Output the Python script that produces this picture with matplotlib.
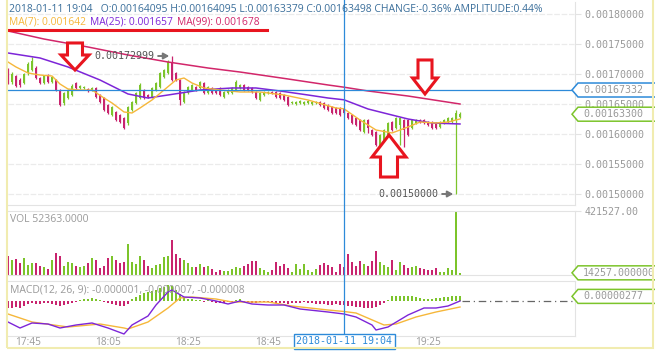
import numpy as np
import matplotlib
matplotlib.use("Agg")
import matplotlib.pyplot as plt
import matplotlib.transforms as mtransforms
from matplotlib.patches import Polygon, Rectangle
from matplotlib.lines import Line2D

# Figure size in pixels (dpi 100)
W, H = 655, 356
P = 1e-5   # price lists below are in units of 1e-5
M = 1e-6   # MACD lists below are in units of 1e-6

# 1-minute candles 17:40 .. 19:33
OPEN = [170.67, 168.67, 169.67, 169.00, 168.50, 170.17, 170.67, 171.00, 169.33, 168.50,
        169.83, 168.67, 169.00, 167.33, 165.17, 166.00, 166.50, 168.50, 167.67, 167.67,
        167.50, 167.33, 167.67, 166.50, 166.00, 164.83, 163.17, 163.67, 163.17, 162.67,
        161.83, 164.00, 165.17, 166.00, 167.33, 166.50, 166.17, 167.33, 167.83, 169.50,
        170.17, 172.00, 170.17, 169.00, 165.33, 166.83, 167.33, 167.83, 167.67, 168.50,
        166.83, 167.67, 167.33, 167.67, 166.17, 166.83, 166.83, 167.33, 167.67, 168.17,
        167.83, 167.67, 167.00, 165.67, 166.50, 166.83, 167.00, 167.00, 166.83, 166.50,
        166.17, 165.17, 165.00, 165.17, 165.00, 165.17, 165.00, 165.17, 165.33, 165.17,
        164.83, 164.50, 164.33, 164.33, 164.095, 163.50, 163.17, 162.67, 162.33, 160.33,
        162.33, 160.67, 160.33, 157.83, 158.67, 159.83, 162.00, 161.00, 161.50, 162.33,
        162.33, 161.00, 161.83, 162.33, 162.33, 162.00, 162.00, 161.83, 161.17, 161.83,
        162.00, 162.00, 162.33, 162.83]
HIGH = [171.00, 170.33, 169.83, 169.33, 170.17, 172.00, 172.83, 171.33, 169.50, 169.83,
        170.00, 169.67, 169.17, 167.50, 167.00, 167.50, 168.33, 168.67, 168.17, 168.00,
        167.67, 167.83, 167.83, 166.67, 166.17, 165.00, 164.67, 163.83, 163.33, 162.83,
        164.67, 165.50, 167.00, 168.50, 167.50, 166.67, 167.83, 168.67, 170.33, 170.83,
        172.33, 172.999, 170.33, 169.17, 167.17, 168.00, 168.33, 168.00, 168.83, 168.67,
        168.00, 167.83, 167.50, 167.83, 167.17, 167.50, 167.83, 169.00, 168.33, 168.33,
        168.00, 167.83, 167.17, 167.00, 167.17, 167.17, 167.17, 167.17, 167.00, 166.67,
        166.33, 165.50, 165.50, 165.67, 165.50, 165.67, 165.50, 165.50, 165.50, 165.33,
        165.00, 164.67, 164.50, 164.50, 164.095, 163.67, 163.33, 162.83, 162.50, 162.50,
        162.50, 160.83, 160.50, 160.00, 160.83, 162.00, 162.17, 162.83, 162.83, 162.50,
        162.50, 162.50, 162.50, 162.50, 162.50, 162.17, 162.17, 162.00, 162.17, 162.50,
        162.83, 162.83, 164.00, 163.67]
LOW = [168.33, 168.33, 167.83, 167.83, 168.33, 169.83, 170.50, 169.17, 168.33, 168.33,
       168.50, 168.50, 167.17, 164.67, 164.83, 165.83, 166.33, 167.50, 167.50, 167.50,
       167.00, 167.17, 166.00, 165.17, 163.83, 163.33, 163.00, 162.17, 161.83, 160.83,
       161.50, 163.83, 165.00, 165.83, 165.83, 166.00, 166.00, 167.17, 167.67, 169.33,
       170.00, 168.83, 168.83, 164.83, 165.17, 166.67, 167.17, 167.17, 167.50, 166.67,
       166.67, 166.67, 166.67, 166.33, 166.00, 166.67, 166.67, 167.17, 167.50, 167.17,
       167.17, 166.83, 165.83, 165.50, 166.33, 166.67, 166.67, 166.00, 165.83, 165.50,
       164.67, 165.00, 164.83, 165.00, 164.83, 165.00, 164.83, 165.00, 164.67, 164.17,
       163.83, 163.33, 163.33, 163.00, 163.379, 162.50, 161.67, 161.33, 160.50, 160.17,
       160.17, 159.67, 158.00, 157.67, 158.50, 159.67, 160.50, 160.83, 158.17, 157.83,
       159.67, 160.83, 161.67, 161.83, 161.67, 161.33, 160.83, 160.83, 161.00, 161.67,
       161.83, 161.83, 150.00, 162.67]
CLOSE = [168.67, 170.00, 168.00, 168.17, 170.00, 171.67, 172.17, 169.33, 168.50, 169.67,
         168.67, 169.50, 167.33, 164.83, 166.83, 167.33, 168.00, 167.67, 168.00, 167.83,
         167.17, 167.67, 166.17, 165.33, 164.00, 163.50, 164.50, 162.33, 162.00, 161.00,
         164.50, 165.33, 166.83, 168.17, 166.00, 166.17, 167.67, 168.50, 170.17, 170.67,
         172.00, 169.00, 169.00, 165.67, 167.00, 167.83, 168.17, 167.33, 168.67, 166.83,
         167.83, 166.83, 166.83, 166.50, 167.00, 167.33, 167.67, 168.67, 168.17, 167.33,
         167.33, 167.00, 166.00, 166.83, 167.00, 167.00, 166.83, 166.17, 166.00, 165.67,
         164.83, 165.33, 165.33, 165.50, 165.33, 165.50, 165.33, 165.33, 164.83, 164.33,
         164.00, 163.50, 163.50, 163.17, 163.498, 162.67, 161.83, 161.50, 160.67, 162.33,
         161.00, 159.83, 158.17, 159.83, 160.67, 161.83, 160.67, 162.67, 162.67, 160.67,
         159.83, 162.33, 162.33, 162.00, 161.83, 161.50, 161.00, 161.00, 162.00, 162.33,
         162.67, 162.67, 163.50, 163.30]
VOLUME = [125000, 99000, 103000, 81000, 112000, 66000, 77000, 81000, 59000, 55000,
          40000, 99000, 147000, 125000, 59000, 86000, 81000, 59000, 55000, 59000,
          81000, 114000, 99000, 46000, 59000, 112000, 125000, 99000, 81000, 88000,
          204000, 88000, 72000, 125000, 99000, 59000, 44000, 64000, 72000, 121000,
          125000, 230000, 138000, 110000, 99000, 77000, 55000, 55000, 72000, 51000,
          59000, 37000, 22000, 33000, 26000, 26000, 37000, 51000, 44000, 59000,
          72000, 94000, 94000, 44000, 33000, 22000, 33000, 86000, 59000, 72000,
          46000, 20000, 72000, 37000, 72000, 33000, 20000, 37000, 64000, 81000,
          64000, 55000, 22000, 72000, 52363, 138000, 86000, 59000, 92000, 72000,
          59000, 92000, 158000, 86000, 64000, 53000, 99000, 33000, 86000, 66000,
          46000, 51000, 59000, 46000, 40000, 33000, 33000, 46000, 20000, 20000,
          46000, 33000, 421527, 14257]
HIST = [-4.2, -4.2, -3.6, -4.2, -3.0, -1.8, -1.2, -1.8, -1.8, -1.2,
        -1.2, -1.8, -2.4, -3.0, -2.4, -1.8, -1.2, -0.6, 0.6, 1.2,
        1.2, 1.8, 1.2, 0.6, -0.6, -1.2, -1.8, -2.4, -3.0, -3.0,
        -1.8, 1.2, 2.4, 3.6, 4.8, 5.4, 6.0, 6.6, 7.8, 8.4,
        9.6, 9.0, 6.6, 4.2, 2.4, 1.2, 1.2, 0.6, 0.6, -0.6,
        0.6, -0.6, -1.2, -1.2, -1.2, -0.6, -0.6, 0.6, 1.2, -0.6,
        -0.6, -1.2, -1.2, -0.6, -0.6, -0.6, -0.6, -1.2, -1.2, -1.2,
        -1.8, -1.2, -1.2, -1.2, -0.6, -1.2, -1.2, -1.8, -1.8, -1.8,
        -2.4, -2.4, -1.8, -2.4, -2.4, -3.0, -3.0, -3.6, -3.6, -4.2,
        -4.2, -4.2, -3.6, -2.4, -1.2, 0.6, 3.0, 3.0, 3.0, 3.0,
        3.0, 3.0, 2.4, 1.8, 1.2, 1.2, 1.2, 1.8, 1.8, 2.4,
        2.4, 3.0, 3.0, 2.77]

# moving averages, read at selected candles
MA7_IDX = [0, 2, 5, 8, 11, 13, 15, 18, 21, 24, 26, 29, 31, 33, 36, 39, 42, 44, 46, 49,
           53, 58, 63, 69, 75, 82, 84, 88, 92, 96, 100, 103, 107, 110, 113]
MA7 = [172.00, 171.17, 170.17, 169.83, 169.67, 168.33, 167.50, 167.33, 167.33, 166.00,
       165.17, 163.67, 163.50, 164.33, 165.67, 167.33, 169.00, 169.33, 168.50, 167.67,
       167.33, 167.00, 167.00, 166.50, 165.67, 164.33, 164.20, 162.33, 160.67, 160.17,
       161.17, 162.00, 161.83, 162.00, 162.50]
MA25_IDX = [0, 8, 15, 23, 30, 35, 40, 48, 56, 62, 68, 75, 80, 84, 90, 95, 100, 106, 113]
MA25 = [173.50, 172.67, 171.17, 169.00, 166.67, 166.00, 166.50, 167.33, 167.67, 167.67,
        167.17, 166.50, 166.00, 165.70, 164.17, 163.33, 162.50, 161.83, 161.67]
MA99_IDX = [0, 9, 20, 30, 40, 50, 58, 70, 80, 84, 90, 100, 113]
MA99 = [177.17, 175.83, 174.50, 173.17, 172.00, 171.00, 170.33, 169.17, 168.17, 167.80,
        167.17, 166.33, 165.00]

# MACD lines, read at selected candles
DIF_IDX = [0, 3, 6, 10, 13, 17, 21, 25, 29, 31, 35, 37, 40, 41, 44, 48, 52, 55, 58, 61,
           65, 69, 73, 80, 84, 87, 91, 92, 95, 100, 104, 107, 110, 113]
DIF = [-12.6, -16.2, -13.2, -13.8, -16.2, -14.4, -13.2, -16.2, -19.8, -14.4,
       -9.0, -2.4, 5.4, 6.6, 2.4, 1.8, 0.0, -1.8, 0.0, -1.8,
       -2.4, -2.4, -4.8, -6.6, -7.8, -9.6, -14.4, -17.4, -15.6, -8.4,
       -4.2, -4.2, -3.0, 0.0]
DEA_IDX = [0, 6, 15, 23, 29, 30, 35, 40, 43, 46, 52, 56, 65, 71, 80, 84, 87, 94, 97, 102,
           107, 113]
DEA = [-7.8, -12.6, -15.6, -13.8, -16.2, -16.8, -12.6, -4.2, 1.8, 2.4, 1.2, -0.6, -0.6,
       -3.0, -5.4, -6.3, -7.2, -14.4, -13.8, -9.6, -6.6, -3.6]

PRICE_TICKS = [0.0015, 0.00155, 0.0016, 0.00165, 0.0017, 0.00175, 0.0018]
TIME_TICK_IDX = [5, 25, 45, 65, 105]
TIME_LABELS = ["17:45", "18:05", "18:25", "18:45", "19:25"]

CROSS_IDX = 84
CROSS_LABEL = "2018-01-11 19:04"
CROSS_PRICE = 0.00167332
LAST_PRICE = 0.001633
MAX_VOL = 421527
HEADER = ("2018-01-11 19:04   O:0.00164095 H:0.00164095 L:0.00163379 C:0.00163498 "
          "CHANGE:-0.36% AMPLITUDE:0.44%")
MA_LABELS = ["MA(7): 0.001642", "MA(25): 0.001657", "MA(99): 0.001678"]
VOL_LABEL = "VOL 52363.0000"
MACD_LABEL = "MACD(12, 26, 9): -0.000001, -0.000007, -0.000008"

# Styles
UP, DOWN = "#7cc42b", "#c8246e"
MA_COLORS = ["#f6b73a", "#7d25d8", "#d2266a"]
BLUE = "#2d8ad9"
RED = "#e8151f"
GRID = "#ebebeb"
BORDER = "#e3e3e3"
AXTXT = "#9a9a9a"
MONO = "DejaVu Sans Mono"
SANS = "Open Sans"


def fx(px):
    return px / W


def fy(py):
    return 1 - py / H


def price_tag(fig, ax, value, text, edge, size=7.2):
    # tag box with a notch pointing left, anchored at x=572px
    base = mtransforms.blended_transform_factory(fig.transFigure, ax.transData)
    trans = fig.dpi_scale_trans + mtransforms.ScaledTranslation(fx(572), value, base)
    pts = [(0, 0), (0.06, 0.07), (0.85, 0.07), (0.85, -0.07), (0.06, -0.07)]
    fig.add_artist(Polygon(pts, closed=True, transform=trans, fc="white", ec=edge,
                           lw=1.1, zorder=5))
    fig.text(0.11, 0.0, text, transform=trans, ha="left", va="center",
             color=AXTXT, family=MONO, fontsize=size, zorder=6)


def hollow_arrow(fig, ax, x, y, down, head_w, head_l, shaft_w, length):
    s = 1 if down else -1
    pts = [(0, 0), (-head_w, s * head_l), (-shaft_w, s * head_l), (-shaft_w, s * length),
           (shaft_w, s * length), (shaft_w, s * head_l), (head_w, s * head_l)]
    pts = [(a / 100, b / 100) for a, b in pts]
    trans = fig.dpi_scale_trans + mtransforms.ScaledTranslation(x, y, ax.transData)
    ax.add_patch(Polygon(pts, closed=True, transform=trans, fc="white", ec=RED,
                         lw=2.2, zorder=8, clip_on=False, joinstyle="miter"))


def main():
    fig = plt.figure(figsize=(W / 100, H / 100), dpi=100)
    fig.patch.set_facecolor("white")

    left, width = fx(8), fx(575) - fx(8)
    ax = fig.add_axes([left, fy(205), width, (205 - 2) / H])
    axv = fig.add_axes([left, fy(275), width, (275 - 211) / H])
    axm = fig.add_axes([left, fy(336), width, (336 - 281) / H])

    n = len(OPEN)
    idx = np.arange(n)
    o, h, l, c = (np.array(v) * P for v in (OPEN, HIGH, LOW, CLOSE))
    colors = np.where(c >= o, UP, DOWN)
    px_price = 0.00005 / 30  # one pixel in price

    # Candles
    ax.vlines(idx, l, h, colors=colors, lw=0.9, zorder=3)
    body = np.maximum(np.abs(c - o), 1.2 * px_price)
    ax.bar(idx, body, bottom=np.minimum(o, c), width=0.72, color=colors, lw=0, zorder=3)

    # Moving averages
    for xs, vals, col, lw in [(MA99_IDX, MA99, MA_COLORS[2], 1.1),
                              (MA25_IDX, MA25, MA_COLORS[1], 1.1),
                              (MA7_IDX, MA7, MA_COLORS[0], 1.0)]:
        ax.plot(xs, np.array(vals) * P, color=col, lw=lw, zorder=4)

    xmax = (575 - 8) / 4
    for a in (ax, axv, axm):
        a.set_xlim(0, xmax)
        a.set_facecolor("none")
        for sp in a.spines.values():
            sp.set_color(BORDER)
            sp.set_linewidth(0.8)
        a.spines["left"].set_visible(False)

    ax.set_ylim(0.0018 - 191 * px_price, 0.0018 + 12 * px_price)
    ax.spines["top"].set_visible(False)
    ax.yaxis.tick_right()
    ax.set_yticks(PRICE_TICKS)
    ax.set_yticklabels([f"{v:.8f}" for v in PRICE_TICKS])
    ax.tick_params(axis="y", length=4, color=BORDER, pad=3, labelsize=7.2,
                   labelcolor=AXTXT)
    for t in ax.get_yticklabels():
        t.set_family(MONO)
    ax.tick_params(axis="x", bottom=False, labelbottom=False)
    ax.grid(axis="y", color=GRID, lw=0.9, ls=(0, (4.5, 1.4)), zorder=0)

    # Crosshair price line
    ax.axhline(CROSS_PRICE, color=BLUE, lw=0.9, zorder=5)

    # High / low annotations
    hi_i = int(np.argmax(h))
    lo_i = int(np.argmin(l))
    for i, val in [(hi_i, h[hi_i]), (lo_i, l[lo_i])]:
        ax.annotate(f"{val:.8f}", xy=(i, val), xytext=(-13, 0), textcoords="offset points",
                    ha="right", va="center", color="#555555", family=MONO, fontsize=7.2,
                    zorder=7,
                    arrowprops=dict(arrowstyle="-|>,head_length=0.45,head_width=0.25",
                                    color="#777777", lw=1.4, shrinkA=1, shrinkB=2))

    # Red hollow arrows
    hollow_arrow(fig, ax, 16.75, 0.0017067, True, 14, 15, 7.5, 27)
    hollow_arrow(fig, ax, 104.25, 0.0016667, True, 12.5, 16, 7, 34)
    hollow_arrow(fig, ax, 95.25, 0.0015983, False, 17, 22, 8.5, 42)

    # Volume
    axv.bar(idx, VOLUME, width=0.68, color=colors, lw=0)
    axv.set_ylim(0, MAX_VOL)
    axv.yaxis.tick_right()
    axv.set_yticks([MAX_VOL])
    axv.set_yticklabels([f"{MAX_VOL:.2f}"])
    axv.tick_params(axis="y", length=4, color=BORDER, pad=3, labelsize=7.2, labelcolor=AXTXT)
    for t in axv.get_yticklabels():
        t.set_family(MONO)
    axv.tick_params(axis="x", bottom=False, labelbottom=False)

    # MACD
    hist = np.array(HIST) * M
    axm.bar(idx, hist, width=0.55, color=np.where(hist >= 0, UP, DOWN), lw=0)
    axm.plot(DEA_IDX, np.array(DEA) * M, color=MA_COLORS[0], lw=1.0)
    axm.plot(DIF_IDX, np.array(DIF) * M, color=MA_COLORS[1], lw=1.0)
    axm.plot([n - 0.5, xmax], [0, 0], color="#666666", lw=0.9, ls=(0, (6, 3, 1, 3)))
    axm.set_ylim(-21 * M, 12 * M)
    axm.set_yticks([])
    axm.set_xticks(TIME_TICK_IDX)
    axm.set_xticklabels(TIME_LABELS)
    axm.tick_params(axis="x", length=0, pad=1, labelsize=7.3, labelcolor=AXTXT)
    for t in axm.get_xticklabels():
        t.set_family(SANS)

    # Vertical crosshair through all panels
    vtrans = mtransforms.blended_transform_factory(ax.transData, fig.transFigure)
    fig.add_artist(Line2D([CROSS_IDX, CROSS_IDX], [1, fy(335)], transform=vtrans,
                          color=BLUE, lw=0.9, zorder=4))
    fig.text(CROSS_IDX, fy(341.5), CROSS_LABEL, transform=vtrans, ha="center",
             va="center", color=BLUE, family=MONO, fontsize=7.2, zorder=6,
             bbox=dict(boxstyle="square,pad=0.25", fc="white", ec=BLUE, lw=1.0))

    # Right-hand tags
    price_tag(fig, ax, CROSS_PRICE, f"{CROSS_PRICE:.8f}", BLUE)
    price_tag(fig, ax, LAST_PRICE, f"{LAST_PRICE:.8f}", UP)
    price_tag(fig, axv, VOLUME[-1], f"{VOLUME[-1]:.6f}", UP)
    price_tag(fig, axm, HIST[-1] * M, f"{HIST[-1] * M:.8f}", UP)

    # Header texts
    fig.text(fx(9), fy(10), HEADER, color="#3a6e9a", family=SANS, fontsize=7.45,
             va="center", ha="left", zorder=6)
    fig.canvas.draw()
    r = fig.canvas.get_renderer()
    x = 9
    for txt, col in zip(MA_LABELS, MA_COLORS):
        t = fig.text(fx(x), fy(22), txt, color=col, family=SANS, fontsize=7.4,
                     va="center", ha="left", zorder=6)
        x = t.get_window_extent(r).x1 + 4
    fig.add_artist(Line2D([fx(8), fx(x + 3)], [fy(30), fy(30)], color=RED, lw=2.2,
                          zorder=6))
    fig.text(fx(10), fy(220), VOL_LABEL, color=AXTXT, family=SANS, fontsize=7.5,
             va="center", ha="left")
    fig.text(fx(10), fy(290), MACD_LABEL, color=AXTXT, family=SANS, fontsize=7.5,
             va="center", ha="left")

    # Pale yellow frame
    fig.add_artist(Rectangle((fx(7), fy(348)), fx(653) - fx(7), 1.2, transform=fig.transFigure,
                             fill=False, ec="#f1ecb0", lw=1.5, zorder=10))

    fig.savefig("out.png", dpi=100)


if __name__ == "__main__":
    main()
